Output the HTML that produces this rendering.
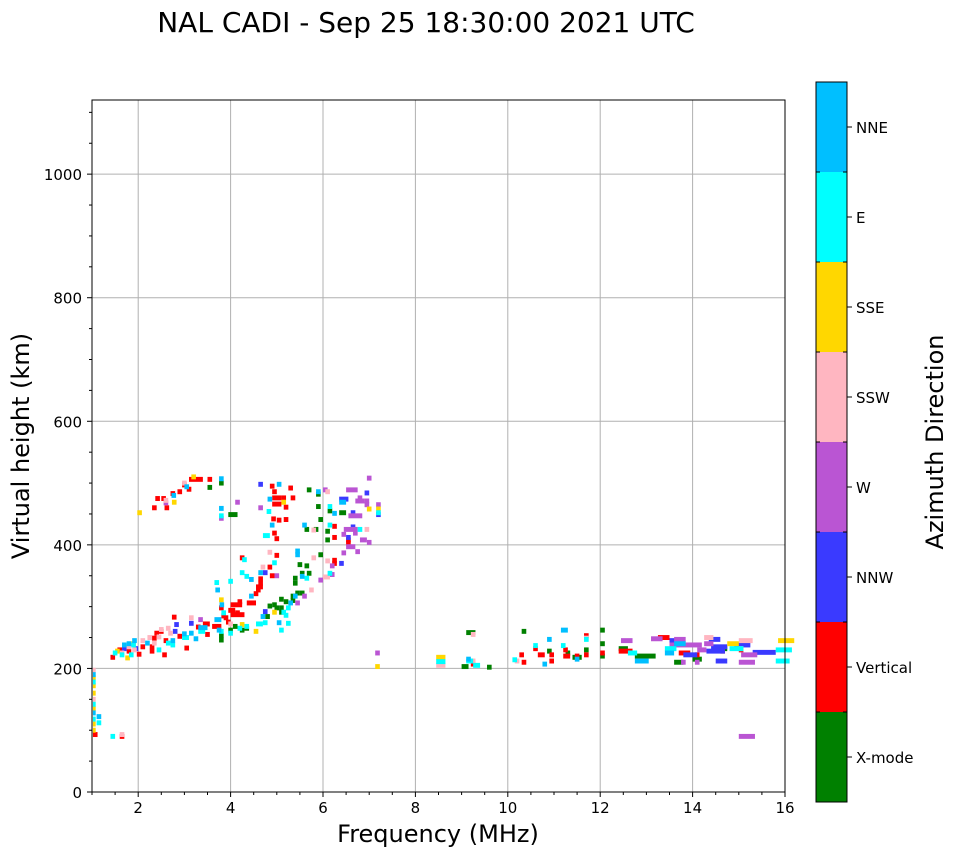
<!DOCTYPE html>
<html><head><meta charset="utf-8"><style>
body{margin:0;background:#fff;font-family:"DejaVu Sans","Liberation Sans",sans-serif;}
svg text{font-family:"DejaVu Sans","Liberation Sans",sans-serif;}
</style></head><body>
<svg id="chart" width="958" height="857" xmlns="http://www.w3.org/2000/svg">
<text x="426" y="32" font-size="28" text-anchor="middle">NAL CADI - Sep 25 18:30:00 2021 UTC</text>
<g id="grid"></g>
<g id="marks"></g>
<g id="axes"></g>
<text x="438" y="842" font-size="24" text-anchor="middle">Frequency (MHz)</text>
<text transform="translate(29,446) rotate(-90)" font-size="24" text-anchor="middle">Virtual height (km)</text>
<g id="cbar"></g>
<text transform="translate(943,442) rotate(-90)" font-size="24" text-anchor="middle">Azimuth Direction</text>
</svg>
<script>
const directions = ["X-mode","Vertical","NNW","W","SSW","SSE","E","NNE"];
const dirColors = ["#008000","#ff0000","#3a3aff","#ba55d3","#ffb6c1","#ffd700","#00ffff","#00bfff"];
const xTicks = [2,4,6,8,10,12,14,16];
const yTicks = [0,200,400,600,800,1000];
// echoes per direction: [frequency MHz, virtual height km, frequency span MHz]
const xmode = [[3.75,500],[3.5,493],[3.95,449,.2],[5.65,489],[5.85,482],[5.85,462],[6.1,455],[6.35,452,.15],[5.9,441],[5.6,425],[5.8,425],[6.05,422],[6.05,408],[5.9,384],[5.6,366],[5.45,368],[5.5,354],[5.65,354],[5.35,346],[5.35,338],[5.4,322],[5.5,322],[5.3,317],[5.05,312],[5.15,308],[5.3,310],[4.9,303],[4.8,301],[4.95,298],[5.05,298],[5.05,291],[4.75,284],[4.3,265],[4.2,262],[4.05,268],[3.75,253],[3.75,246],[3.95,262],
[9.1,258,.2],[9.0,203,.15],[9.55,202],[10.3,260],[10.85,228],[11.25,225],[11.4,218,.2],[11.65,230],[12.0,262],[12.0,240],[12.0,220],[12.4,232,.2],[12.75,220,.45],[13.6,210,.2],[14.0,215,.2],[14.55,232,.2]];
const vertical = [[3.1,506,.3],[3.5,506],[2.95,497],[3.05,490],[2.7,483],[2.85,486],[2.5,475],[2.37,475],[2.3,460],[2.57,460],[4.85,495],[5.25,492],[4.9,486],[4.9,476,.2],[5.1,476],[5.3,476],[4.9,466,.2],[5.15,461],[4.88,442],[5.0,440],[5.15,441],[4.9,419],[4.95,410],[6.2,430],[6.2,412],[6.5,408],[6.5,403],[6.2,375],[6.2,370],[4.35,306,.2],[4.5,321],[4.55,327],[4.55,332,.15],[4.6,338],[4.8,364],[4.6,345],[4.85,350],[4.95,383],[4.2,379],[3.75,298],[4.0,303,.25],[4.15,308],[3.95,294,.15],[4.1,290],[4.0,287,.3],[3.8,285],[3.85,282],[3.9,275],[3.4,272,.15],[3.6,268,.2],[3.25,267],[3.45,255],[2.85,252],[2.45,260],[2.35,257],[2.3,249],[2.55,245],[2.25,235],[2.25,228],[2.52,222],[3.0,233],[2.73,283],[2.05,235],[1.97,223],[1.4,218],[1.6,90],[1.55,230],[1.75,228],[1.02,93],
[9.2,207],[10.25,222],[10.3,210],[10.55,232],[10.65,222,.15],[10.9,212],[10.9,222],[11.2,230],[11.2,220,.15],[11.45,220],[11.65,253],[11.65,222],[12.0,225],[12.4,228,.3],[13.25,250,.25],[13.7,225,.25],[14.05,222],[14.6,228],[15.0,230]];
const nnw = [[4.6,498],[6.35,474,.2],[6.9,484],[7.15,449],[6.6,452],[6.6,429],[6.5,412],[6.35,370],[4.7,355],[4.7,292],[3.1,273],[2.75,260],[2.78,271],[1.65,232],[1.9,232],
[13.5,245,.2],[13.8,222,.3],[14.35,247,.25],[14.4,235,.35],[14.3,228,.4],[14.5,212,.25],[14.9,238,.35],[15.3,226,.5]];
const west = [[4.1,469],[6.0,489],[6.5,489,.25],[6.7,471,.2],[6.75,476],[6.9,471],[6.9,465],[6.95,508],[7.15,465],[6.55,447,.3],[6.45,425,.3],[6.4,417],[6.65,419],[6.8,408,.15],[6.95,404],[6.5,397,.2],[6.7,389],[6.4,387],[6.15,366],[6.15,352],[5.9,343],[5.55,317],[5.4,306],[4.95,350],[3.3,279],[2.55,468],[3.75,443],[4.6,460],[7.13,225],[15.0,90,.35],
[12.45,245,.25],[13.1,248,.25],[13.5,238,.7],[13.6,247,.25],[13.75,210],[14.1,230,.2],[14.25,240,.2],[14.05,210],[15.05,222,.35],[15.0,210,.35]];
const ssw = [[2.95,500],[2.55,472],[6.05,486],[5.75,424],[6.9,425],[5.75,379],[6.05,374],[6.0,348,.15],[5.7,327],[4.65,364],[4.8,388],[3.95,272],[3.1,282],[2.65,257],[2.6,265],[2.45,263],[2.4,251],[2.3,241],[2.2,250],[2.05,245],[1.87,230],[1.6,225],[1.75,235],[1.02,150,.06],[1.6,93],[1.02,197,.06],
[8.45,205,.2],[9.2,255],[9.2,212],[10.15,212],[11.65,249],[14.25,250,.2],[15.0,245,.3],[15.0,232]];
const sse = [[3.15,510],[2.73,469],[5.1,469],[6.95,458],[7.15,458],[4.9,291],[4.5,260],[4.2,271],[3.75,311],[1.72,217],[1.5,228],[1.85,240],[7.13,203],[1.98,452],[1.02,185,.06],[1.02,172,.06],[1.02,160,.06],[1.02,135,.06],[1.02,110,.06],[1.02,100,.06],
[8.45,218,.2],[14.75,240,.25],[15.85,245,.35]];
const east = [[3.75,447],[6.1,462],[7.15,452],[4.78,454],[4.7,415,.15],[6.1,432],[6.75,425],[6.1,354],[5.6,346],[5.2,298],[5.1,291],[5.15,286],[4.7,274],[5.2,273],[5.05,262],[4.55,272,.15],[4.3,268],[4.15,265],[3.95,257],[3.75,260],[4.9,371],[4.3,349],[4.25,376],[4.2,355],[3.95,341],[3.65,339],[3.8,290],[3.3,260,.15],[2.95,250,.15],[2.6,241],[2.7,238],[2.4,230],[1.8,222],[1.6,222],[1.85,238],[1.45,225],[1.02,178,.06],[1.02,142,.06],[1.02,118,.06],[1.4,90],[1.1,112],
[8.45,211,.2],[9.1,212,.15],[9.25,205,.15],[10.1,214],[10.55,237],[11.15,237],[11.65,247],[12.6,225,.2],[13.4,232,.25],[14.8,232,.3],[15.8,230,.35],[15.8,212,.3]];
const nne = [[3.75,507],[3.0,494],[2.72,480],[3.75,459],[5.0,498],[4.8,474],[4.85,432],[5.85,486],[6.35,469,.15],[6.2,451],[5.55,432],[5.4,390],[5.4,384],[5.5,349],[5.35,317],[5.25,306],[4.65,284],[5.0,274],[4.4,317],[4.6,355],[4.4,344],[3.67,327],[3.76,303],[3.65,279,.15],[3.3,266,.2],[3.1,257],[3.7,262],[3.2,248],[2.95,256],[2.7,245],[2.15,241],[1.87,245],[1.75,240],[1.65,238],[1.02,190,.06],[1.02,128,.06],[1.1,122],
[9.1,215],[10.75,207],[10.85,247],[11.15,262,.15],[11.45,215],[12.75,212,.3],[13.6,240,.25],[13.4,225,.2]];
const series = [xmode, vertical, nnw, west, ssw, sse, east, nne];

const NS="http://www.w3.org/2000/svg";
const L=92,R=785,T=100,B=792, fMin=1,fMax=16,hMin=0,hMax=1120;
function x(f){return L+(f-fMin)/(fMax-fMin)*(R-L);}
function y(h){return B-(h-hMin)/(hMax-hMin)*(B-T);}
function mk(tag,attrs,parent){const e=document.createElementNS(NS,tag);for(const k in attrs)e.setAttribute(k,attrs[k]);parent.appendChild(e);return e;}
const grid=document.getElementById('grid'),axes=document.getElementById('axes'),marks=document.getElementById('marks'),cbar=document.getElementById('cbar');
xTicks.forEach(v=>{
  if(v<fMax){const g=mk('line',{x1:x(v),x2:x(v),y1:T,y2:B,stroke:'#b0b0b0','stroke-width':1},grid);
  
  }
  const t=mk('line',{x1:x(v),x2:x(v),y1:B,y2:B+5,stroke:'#000'},axes);
  
  
  const lb=mk('text',{x:x(v),y:B+21,'font-size':15,'text-anchor':'middle'},axes);lb.textContent=v;
  
  
});
for(let v=1;v<=16;v+=0.5){if(xTicks.includes(v))continue;mk('line',{x1:x(v),x2:x(v),y1:B,y2:B+3,stroke:'#000'},axes);}
yTicks.forEach(v=>{
  if(v>0){const g=mk('line',{x1:L,x2:R,y1:y(v),y2:y(v),stroke:'#b0b0b0','stroke-width':1},grid);
  
  }
  mk('line',{x1:L-5,x2:L,y1:y(v),y2:y(v),stroke:'#000'},axes);
  const lb=mk('text',{x:L-10,y:y(v)+6,'font-size':15,'text-anchor':'end'},axes);lb.textContent=v;
  
  
});
for(let v=50;v<hMax;v+=50){if(yTicks.includes(v))continue;mk('line',{x1:L-3,x2:L,y1:y(v),y2:y(v),stroke:'#000'},axes);}
const frame=mk('rect',{x:L,y:T,width:R-L,height:B-T,fill:'none',stroke:'#000','stroke-width':1},axes);


series.forEach((arr,ci)=>{
  arr.forEach(p=>{
    const f=p[0],h=p[1],w=(p[2]||0.1);
    const r=mk('rect',{x:x(f),y:y(h+4),width:Math.max(1,x(f+w)-x(f)),height:y(h-4)-y(h+4),fill:dirColors[ci]},marks);
    
    
  });
});
const cx=816,cw=31,cT=82,cB=802,seg=(cB-cT)/directions.length;
directions.forEach((d,i)=>{
  const yy=cB-(i+1)*seg;
  const r=mk('rect',{x:cx,y:yy,width:cw,height:seg,fill:dirColors[i]},cbar);
  
  
  const ty=yy+seg/2;
  mk('line',{x1:cx+cw,x2:cx+cw+5,y1:ty,y2:ty,stroke:'#000'},cbar);
  const lb=mk('text',{x:cx+cw+9,y:ty+6,'font-size':15},cbar);lb.textContent=d;
  
  
});
for(let i=0;i<=directions.length;i++){const yy=cB-i*seg;mk('line',{x1:cx+cw-4,x2:cx+cw,y1:yy,y2:yy,stroke:'#000'},cbar);mk('line',{x1:cx,x2:cx+4,y1:yy,y2:yy,stroke:'#000'},cbar);}
mk('rect',{x:cx,y:cT,width:cw,height:cB-cT,fill:'none',stroke:'#000'},cbar);
</script>
</body></html>
